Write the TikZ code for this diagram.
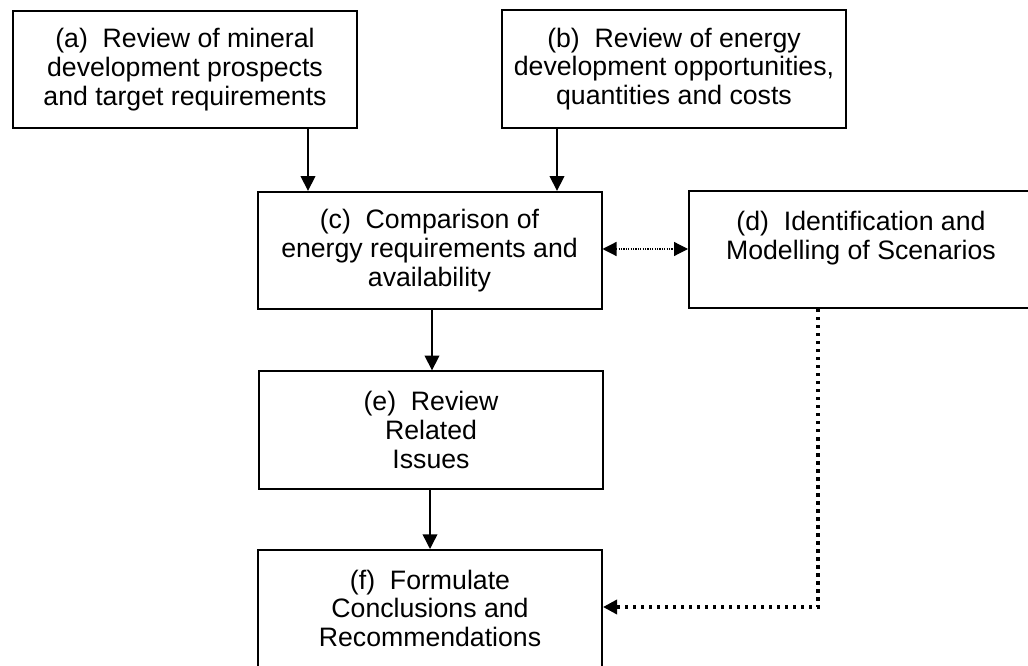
\documentclass[tikz,border=0pt]{standalone}
\usepackage{fontspec}
\setmainfont{Liberation Sans}
\usetikzlibrary{arrows.meta}
\begin{document}
\begin{tikzpicture}[x=0.75pt, y=-0.75pt,
  box/.style={draw=black, line width=1.5pt, rectangle, inner sep=0pt, align=center,
    font=\fontsize{20pt}{21.5pt}\selectfont, minimum width=258pt, minimum height=88pt},
  arr/.style={line width=1.1pt, -{Triangle[length=11pt,width=11pt]}},
  thindot/.style={line width=0.9pt, dash pattern=on 0.9pt off 0.9pt,
    {Triangle[length=10.5pt,width=10.5pt]}-{Triangle[length=10.5pt,width=10.5pt]}},
  thickdot/.style={line width=2.5pt, dash pattern=on 2.5pt off 3.5pt,
    -{Triangle[length=10.5pt,width=10.5pt]}}
]
\clip (0,0) rectangle (1028,666);
\fill[white] (0,0) rectangle (1028,666);

\node[box] (a) at (185,69.5) {(a)\ \ Review of mineral\\development prospects\\and target requirements};
\node[box] (b) at (674,69) {(b)\ \ Review of energy\\development opportunities,\\quantities and costs};
\node[box] (c) at (429.5,250.5) {(c)\ \ Comparison of\\energy requirements and\\availability};
\node[box] (d) at (861,249.5) {\parbox[c][88pt][t]{250pt}{\centering\vspace*{15.5pt}(d)\ \ Identification and\\Modelling of Scenarios}};
\node[box] (e) at (431,430) {(e)\ \ Review\\Related\\Issues};
\node[box, minimum height=105pt] (f) at (430,620) {\parbox[c][105pt][t]{250pt}{\centering\vspace*{15pt}(f)\ \ Formulate\\Conclusions and\\Recommendations}};

\coordinate (xa) at (308,0);
\coordinate (xb) at (557,0);
\coordinate (xc) at (432,0);
\coordinate (xe) at (430,0);
\coordinate (xd) at (818,0);
\coordinate (ycd) at (0,249);
\coordinate (yf) at (0,607);

\draw[arr] (a.south -| xa) -- (c.north -| xa);
\draw[arr] (b.south -| xb) -- (c.north -| xb);
\draw[arr] (c.south -| xc) -- (e.north -| xc);
\draw[arr] (e.south -| xe) -- (f.north -| xe);
\draw[thindot] (c.east |- ycd) -- (d.west |- ycd);
\draw[thickdot] (d.south -| xd) |- (f.east |- yf);
\end{tikzpicture}
\end{document}
